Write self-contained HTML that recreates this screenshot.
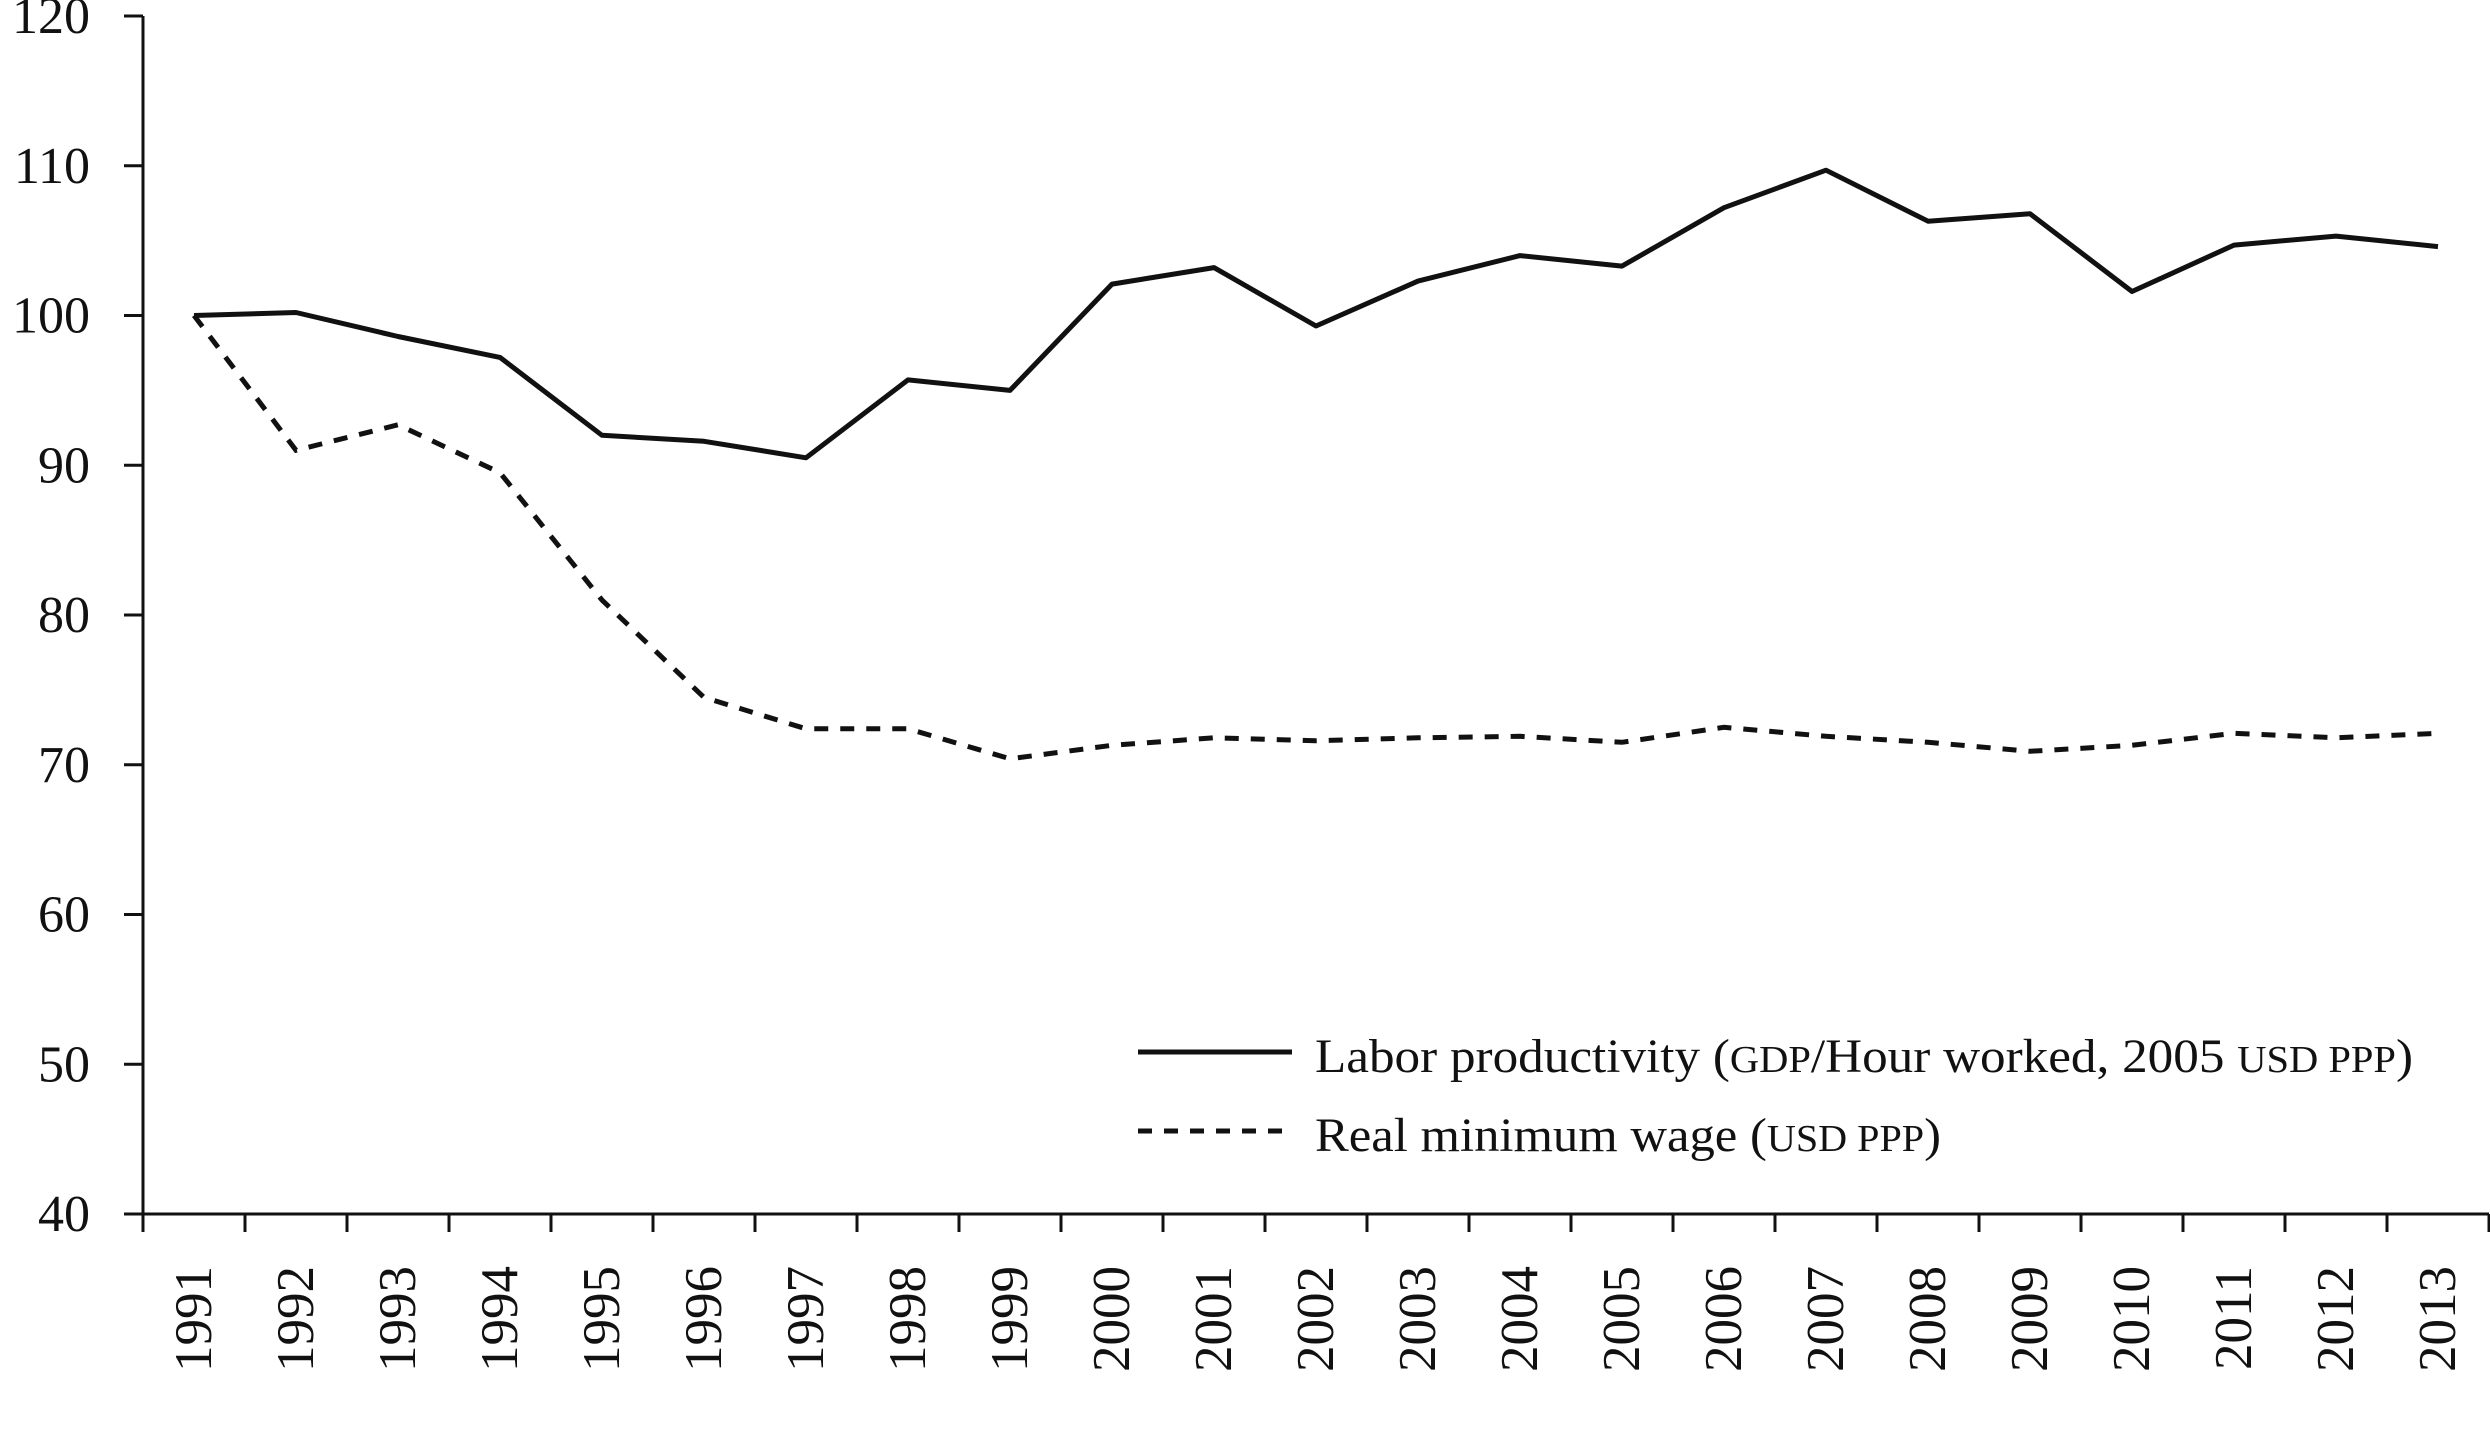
<!DOCTYPE html>
<html><head><meta charset="utf-8"><style>
html,body{margin:0;padding:0;background:#fff;}
svg{display:block;font-family:"Liberation Serif",serif;}
</style></head><body>
<svg id="chart" width="2490" height="1430" viewBox="0 0 2490 1430" xmlns="http://www.w3.org/2000/svg">
<g id="axes"></g>
<g id="series"></g>
<g>
<line x1="1138" y1="1052" x2="1292" y2="1052" stroke="#111" stroke-width="5"/>
<text x="1315" y="1072" font-size="48" fill="#111" textLength="1098" lengthAdjust="spacingAndGlyphs">Labor productivity (<tspan font-size="38">GDP</tspan>/Hour worked, 2005 <tspan font-size="38">USD PPP</tspan>)</text>
<line x1="1138" y1="1131" x2="1292" y2="1131" stroke="#111" stroke-width="5" stroke-dasharray="14,12"/>
<text x="1315" y="1151" font-size="48" fill="#111" textLength="626" lengthAdjust="spacingAndGlyphs">Real minimum wage (<tspan font-size="38">USD PPP</tspan>)</text>
</g>
</svg>
<script>
const years = ["1991","1992","1993","1994","1995","1996","1997","1998","1999","2000","2001","2002","2003","2004","2005","2006","2007","2008","2009","2010","2011","2012","2013"];
const laborProductivity = [100,100.2,98.6,97.2,92,91.6,90.5,95.7,95,102.1,103.2,99.3,102.3,104,103.3,107.2,109.7,106.3,106.8,101.6,104.7,105.3,104.6];
const realMinimumWage = [100,91,92.7,89.5,81,74.5,72.4,72.4,70.4,71.3,71.8,71.6,71.8,71.9,71.5,72.5,71.9,71.5,70.9,71.3,72.1,71.8,72.1];
const yTicks = [40,50,60,70,80,90,100,110,120];

const NS = "http://www.w3.org/2000/svg";
const X0 = 143, X1 = 2489, YTOP = 16, YBOT = 1214, YMIN = 40, YMAX = 120;
const band = (X1 - X0) / years.length;
function xPos(i){ return X0 + band * (i + 0.5); }
function yPos(v){ return YBOT - (v - YMIN) / (YMAX - YMIN) * (YBOT - YTOP); }
function mk(tag, attrs, parent){ const e = document.createElementNS(NS, tag); for (const k in attrs) e.setAttribute(k, attrs[k]); parent.appendChild(e); return e; }

const axes = document.getElementById('axes');
const ya = mk('line', {x1:X0, y1:YTOP, x2:X0, y2:YBOT+1, stroke:'#111','stroke-width':3}, axes);


const xa = mk('line', {x1:124, y1:YBOT, x2:X1, y2:YBOT, stroke:'#111','stroke-width':3}, axes);


yTicks.forEach(v => {
  const y = yPos(v);
  const t = mk('line', {x1:124, y1:y, x2:X0, y2:y, stroke:'#111','stroke-width':3}, axes);
  
  
  const l = mk('text', {x:90, y:y+17, 'font-size':52, 'text-anchor':'end', fill:'#111'}, axes);
  l.textContent = v;
  
  
});
for (let i = 0; i <= years.length; i++) {
  const x = X0 + band * i;
  const t = mk('line', {x1:x, y1:YBOT, x2:x, y2:YBOT+18, stroke:'#111','stroke-width':3}, axes);
  
  
}
years.forEach((yr, i) => {
  const x = xPos(i) + 17;
  const l = mk('text', {x:x, y:1266, 'font-size':53, 'text-anchor':'end', fill:'#111', transform:`rotate(-90 ${x} 1266)`}, axes);
  l.textContent = yr;
  
  
});

const series = document.getElementById('series');
function pts(arr){ return arr.map((v,i) => xPos(i).toFixed(1) + ',' + yPos(v).toFixed(1)).join(' '); }
const p1 = mk('polyline', {points:pts(laborProductivity), fill:'none', stroke:'#111','stroke-width':5,'stroke-linejoin':'round'}, series);


const p2 = mk('polyline', {points:pts(realMinimumWage), fill:'none', stroke:'#111','stroke-width':5,'stroke-dasharray':'14,12'}, series);


</script>
</body></html>
